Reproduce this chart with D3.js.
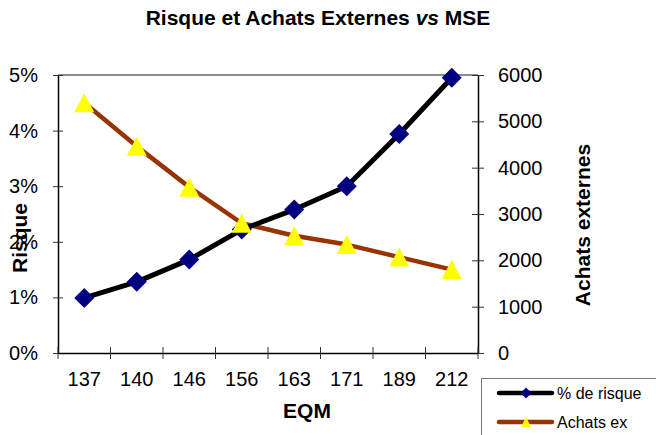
<!DOCTYPE html>
<html>
<head>
<meta charset="utf-8">
<script src="https://cdn.jsdelivr.net/npm/d3@7"></script>
<style>
  html, body { margin: 0; padding: 0; background: #fff; }
  svg { display: block; font-family: "Liberation Sans", Arial, sans-serif; }
</style>
</head>
<body>
<svg id="chart" width="656" height="435"></svg>
<script>
// EQM categories
const categories = ["137", "140", "146", "156", "163", "171", "189", "212"];
// % de risque (fraction)
const risque = [0.0099, 0.0128, 0.0168, 0.0222, 0.0258, 0.030, 0.0394, 0.0495];
// Achats externes
const achats = [5400, 4460, 3580, 2800, 2530, 2340, 2070, 1800];
const leftTicks = [0, 0.01, 0.02, 0.03, 0.04, 0.05];
const rightTicks = [0, 1000, 2000, 3000, 4000, 5000, 6000];

const svg = d3.select("#chart");
const plot = { left: 58, right: 478, top: 75, bottom: 353 };

const x = d3.scaleBand().domain(categories).range([plot.left, plot.right]).padding(0);
const yL = d3.scaleLinear().domain([0, 0.05]).range([plot.bottom, plot.top]);
const yR = d3.scaleLinear().domain([0, 6000]).range([plot.bottom, plot.top]);

// Title
const title = svg.append("text")
  .attr("x", 318).attr("y", 25)
  .attr("text-anchor", "middle")
  .attr("font-size", 21).attr("font-weight", "bold").attr("fill", "#000");
title.append("tspan").text("Risque et Achats Externes ");
title.append("tspan").attr("font-style", "italic").text("vs");
title.append("tspan").text(" MSE");

// Plot frame (top edge)
svg.append("line")
  .attr("x1", plot.left).attr("x2", plot.right)
  .attr("y1", plot.top).attr("y2", plot.top)
  .attr("stroke", "#8c8c8c").attr("stroke-width", 2);

function styleAxis(g, tickFrom, tickTo) {
  g.select(".domain").attr("stroke", "#000").attr("stroke-width", 1.5);
  g.selectAll(".tick line").attr("stroke", "#333").attr("stroke-width", 1)
    .attr("x1", tickFrom).attr("x2", tickTo);
  g.selectAll(".tick text").attr("font-size", 20).attr("fill", "#000")
    .attr("font-family", "Liberation Sans, Arial, sans-serif");
}

// Left axis
const gL = svg.append("g").attr("transform", `translate(${plot.left},0)`)
  .call(d3.axisLeft(yL).tickValues(leftTicks).tickFormat(d3.format(".0%")).tickSizeOuter(0).tickPadding(14));
styleAxis(gL, -5, 5);

// Right axis
const gR = svg.append("g").attr("transform", `translate(${plot.right},0)`)
  .call(d3.axisRight(yR).tickValues(rightTicks).tickFormat(d3.format("d")).tickSizeOuter(0).tickPadding(14));
styleAxis(gR, -6, 6);

// Bottom axis: ticks at category boundaries, labels at centers
const gB = svg.append("g").attr("transform", `translate(0,${plot.bottom})`)
  .call(d3.axisBottom(x).tickSize(0).tickSizeOuter(0).tickPadding(19));
gB.select(".domain").attr("stroke", "#000").attr("stroke-width", 1.5);
gB.selectAll(".tick text").attr("font-size", 20).attr("fill", "#000")
  .attr("font-family", "Liberation Sans, Arial, sans-serif");
const bounds = categories.map(c => x(c)).concat([plot.right]);
gB.selectAll(".bound").data(bounds).enter().append("line")
  .attr("x1", d => d).attr("x2", d => d)
  .attr("y1", -6).attr("y2", 6)
  .attr("stroke", "#333").attr("stroke-width", 1);

// Axis titles
svg.append("text")
  .attr("transform", "translate(27,238) rotate(-90)")
  .attr("text-anchor", "middle")
  .attr("font-size", 21).attr("font-weight", "bold").text("Risque");
svg.append("text")
  .attr("transform", "translate(590,225) rotate(-90)")
  .attr("text-anchor", "middle")
  .attr("font-size", 21).attr("font-weight", "bold").text("Achats externes");
svg.append("text")
  .attr("x", 307).attr("y", 418)
  .attr("text-anchor", "middle")
  .attr("font-size", 21).attr("font-weight", "bold").text("EQM");

const cx = d => x(d) + x.bandwidth() / 2;

// Achats externes series
svg.append("path")
  .datum(achats)
  .attr("fill", "none").attr("stroke", "#993300").attr("stroke-width", 4.5)
  .attr("stroke-linejoin", "round")
  .attr("d", d3.line().x((d, i) => cx(categories[i])).y(d => yR(d)));

// Risque series
svg.append("path")
  .datum(risque)
  .attr("fill", "none").attr("stroke", "#000").attr("stroke-width", 5)
  .attr("stroke-linejoin", "round")
  .attr("d", d3.line().x((d, i) => cx(categories[i])).y(d => yL(d)));

function diamondPath(r) { return `M0,${-r}L${r},0L0,${r}L${-r},0Z`; }
function trianglePath(w, h) { return `M0,${-h / 2}L${w / 2},${h / 2}L${-w / 2},${h / 2}Z`; }

svg.selectAll(".dia").data(risque).enter().append("path")
  .attr("d", diamondPath(10))
  .attr("transform", (d, i) => `translate(${cx(categories[i])},${yL(d)})`)
  .attr("fill", "#000080");

svg.selectAll(".tri").data(achats).enter().append("path")
  .attr("d", trianglePath(20, 19))
  .attr("transform", (d, i) => `translate(${cx(categories[i])},${yR(d)})`)
  .attr("fill", "#ffff00");

// Legend
const lg = svg.append("g");
lg.append("rect")
  .attr("x", 481.5).attr("y", 378.5).attr("width", 200).attr("height", 80)
  .attr("fill", "#fff").attr("stroke", "#777").attr("stroke-width", 1);
const legendItems = [
  { label: "% de risque", color: "#000", marker: diamondPath(5.5), mfill: "#000080", y: 393 },
  { label: "Achats ex", color: "#993300", marker: trianglePath(10, 10), mfill: "#ffff00", y: 422 }
];
legendItems.forEach(it => {
  lg.append("line").attr("x1", 499).attr("x2", 552).attr("y1", it.y).attr("y2", it.y)
    .attr("stroke", it.color).attr("stroke-width", 4.5).attr("stroke-linecap", "round");
  lg.append("path").attr("d", it.marker).attr("transform", `translate(526,${it.y})`).attr("fill", it.mfill);
  lg.append("text").attr("x", 557).attr("y", it.y + 6).attr("font-size", 16).text(it.label);
});
</script>
</body>
</html>
